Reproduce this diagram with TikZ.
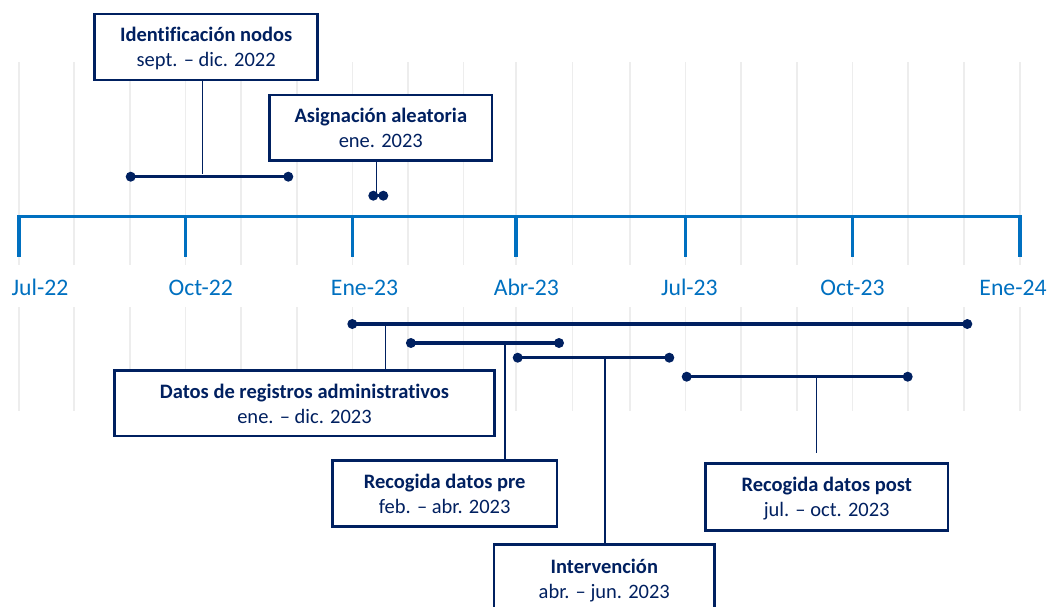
\documentclass[tikz,border=0pt]{standalone}
\usepackage{fontspec}
\setmainfont{Carlito}[Ligatures={NoCommon,NoContextual}]
\definecolor{navy}{HTML}{002060}
\definecolor{axisblue}{HTML}{0070C0}
\definecolor{gridgray}{HTML}{EDEDED}
\begin{document}
\begin{tikzpicture}[x=1pt,y=-1pt,
  boxframe/.style={draw=navy,line width=2.7pt,inner sep=0pt,outer sep=0pt,fill=white},
  titletxt/.style={font=\fontsize{20.5}{24}\selectfont\bfseries,text=navy,inner sep=0pt,anchor=base},
  subtxt/.style={font=\fontsize{20.5}{24}\selectfont,text=navy,inner sep=0pt,anchor=base},
  axlabel/.style={font=\fontsize{23.7}{28}\selectfont,text=axisblue,inner sep=0pt,anchor=base},
  rangebar/.style={navy,line width=3.5pt},
  rdot/.style={circle,fill=navy,inner sep=0pt,minimum size=10pt},
  conn/.style={navy,line width=1.2pt},
  gridln/.style={gridgray,line width=1.6pt},
  axisln/.style={axisblue,line width=3.3pt}]
\useasboundingbox (0,0) rectangle (1049,607);
% grid
\foreach \gx in {19,74,130,185.5,241,297,352.5,408,463.5,516,572.5,630,685.5,741,797,852.5,908,964,1020}{
  \draw[gridln] (\gx,62) -- (\gx,265);
  \draw[gridln] (\gx,307) -- (\gx,410.5);
}
% axis
\draw[axisln,line join=miter] (19,256.7) -- (19,216.7) -- (1020,216.7) -- (1020,256.7);
\foreach \tx in {185.5,352.5,516,685.5,852.5}{
  \draw[axisln] (\tx,216.7) -- (\tx,256.7);
}
\node[axlabel] (lj22) at (40,295.5) {Jul-22};
\node[axlabel] (lo22) at (200.8,295.5) {Oct-22};
\node[axlabel] (le23) at (364.5,295.5) {Ene-23};
\node[axlabel] (la23) at (526.3,295.5) {Abr-23};
\node[axlabel] (lj23) at (689.4,295.5) {Jul-23};
\node[axlabel] (lo23) at (852.5,295.5) {Oct-23};
\node[axlabel] (le24) at (1013,295.5) {Ene-24};

% ---- Identificación nodos
\node[rdot] (ia) at (130.7,176.7) {};
\node[rdot] (ib) at (288.3,176.7) {};
\draw[rangebar] (ia.center) -- (ib.center);
\node[boxframe,minimum width=223pt,minimum height=66pt] (b1) at (206.2,47) {};
\node[titletxt] (b1t) at (206.2,41.8) {Identificación nodos};
\node[subtxt] (b1s) at (206.2,66.8) {sept. – dic. 2022};
\coordinate (c1) at (202.3,174);
\draw[conn] (b1.south -| c1) -- (c1);

% ---- Asignación aleatoria
\node[rdot] (aa) at (373.3,195.7) {};
\node[rdot] (ab) at (383.3,195.7) {};
\draw[rangebar] (aa.center) -- (ab.center);
\node[boxframe,minimum width=222.3pt,minimum height=65.6pt] (b2) at (380.8,127.8) {};
\node[titletxt] (b2t) at (380.8,122.6) {Asignación aleatoria};
\node[subtxt] (b2s) at (380.8,147.6) {ene. 2023};
\coordinate (c2) at (376.7,192);
\draw[conn] (b2.south -| c2) -- (c2);

% ---- Datos de registros administrativos
\node[rdot] (da) at (352.3,324) {};
\node[rdot] (db) at (967.3,324) {};
\draw[rangebar] (da.center) -- (db.center);
\node[boxframe,minimum width=379.7pt,minimum height=65.3pt] (b3) at (304.5,403.3) {};
\node[titletxt] (b3t) at (304.5,398.1) {Datos de registros administrativos};
\node[subtxt] (b3s) at (304.5,423.1) {ene. – dic. 2023};
\coordinate (c3) at (385.8,324);
\draw[conn] (c3) -- (b3.north -| c3);

% ---- Recogida datos pre
\node[rdot] (pa) at (410.9,343) {};
\node[rdot] (pb) at (559,343) {};
\draw[rangebar] (pa.center) -- (pb.center);
\node[boxframe,minimum width=224.6pt,minimum height=65.5pt] (b4) at (444.7,493.4) {};
\node[titletxt] (b4t) at (444.7,488.2) {Recogida datos pre};
\node[subtxt] (b4s) at (444.7,513.2) {feb. – abr. 2023};
\coordinate (c4) at (505,343);
\draw[conn] (c4) -- (b4.north -| c4);

% ---- Intervención
\node[rdot] (na) at (517.7,357.7) {};
\node[rdot] (nb) at (669.3,357.7) {};
\draw[rangebar] (na.center) -- (nb.center);
\node[boxframe,minimum width=220.6pt,minimum height=68pt] (b5) at (604.3,578.4) {};
\node[titletxt] (b5t) at (604.3,573.2) {Intervención};
\node[subtxt] (b5s) at (604.3,598.2) {abr. – jun. 2023};
\coordinate (c5) at (605,357.7);
\draw[conn] (c5) -- (b5.north -| c5);

% ---- Recogida datos post
\node[rdot] (sa) at (686.7,376.7) {};
\node[rdot] (sb) at (907.7,376.7) {};
\draw[rangebar] (sa.center) -- (sb.center);
\node[boxframe,minimum width=242.6pt,minimum height=66.8pt] (b6) at (826.7,496.8) {};
\node[titletxt] (b6t) at (826.7,491.6) {Recogida datos post};
\node[subtxt] (b6s) at (826.7,516.6) {jul. – oct. 2023};
\coordinate (c6) at (816.3,376.7);
\coordinate (c6e) at (816.3,452.7);
\draw[conn] (c6) -- (c6e);
\end{tikzpicture}
\end{document}
